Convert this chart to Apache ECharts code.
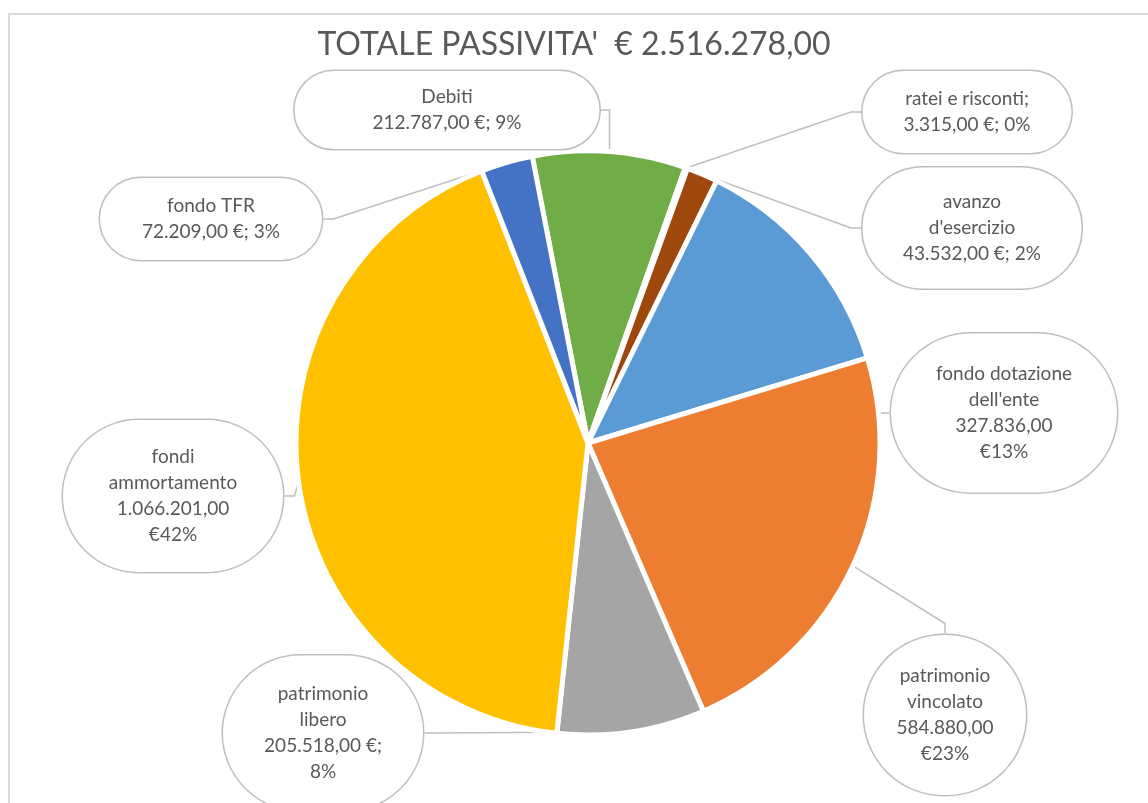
<!DOCTYPE html>
<html>
<head>
<meta charset="utf-8">
<script src="https://cdn.jsdelivr.net/npm/echarts@6/dist/echarts.min.js"></script>
<style>
html, body { margin: 0; padding: 0; background: #fff; overflow: hidden; }
#frame { position: absolute; left: 8px; top: 13px; width: 1300px; height: 1000px; border: 2px solid #d9d9d9; box-sizing: border-box; }
#main { position: absolute; left: 0; top: 0; width: 1148px; height: 803px; }
</style>
</head>
<body>
<div id="frame"></div>
<div id="main"></div>
<script>
// dati (in senso orario partendo da Debiti)
var categories = ['Debiti', 'ratei e risconti;', "avanzo d'esercizio", "fondo dotazione dell'ente",
    'patrimonio vincolato', 'patrimonio libero', 'fondi ammortamento', 'fondo TFR'];
var values = [212787, 3315, 43532, 327836, 584880, 205518, 1066201, 72209];
var colors = ['#70AD47', '#264478', '#9E480E', '#5B9BD5', '#ED7D31', '#A5A5A5', '#FFC000', '#4472C4'];

// posizione/forma dei fumetti (centro, larghezza, altezza, a capo)
var bubbles = [
    { x: 447, y: 110, w: 305, h: 78, nameBreak: false, valBreak: 0 },
    { x: 967, y: 112, w: 209, h: 82, nameBreak: false, valBreak: 0 },
    { x: 972, y: 228, w: 219, h: 121, nameBreak: true, valBreak: 0 },
    { x: 1004, y: 413, w: 226, h: 159, nameBreak: true, valBreak: 1 },
    { x: 945, y: 715, w: 162, h: 160, nameBreak: true, valBreak: 1 },
    { x: 323, y: 733, w: 200, h: 155, nameBreak: true, valBreak: 2 },
    { x: 173, y: 496, w: 220, h: 152, nameBreak: true, valBreak: 1 },
    { x: 211, y: 219, w: 222, h: 82, nameBreak: false, valBreak: 0 }
];

var LINE_H = 26;

function fmtEuro(v) {
    var s = String(Math.round(v));
    var out = '';
    while (s.length > 3) {
        out = '.' + s.slice(-3) + out;
        s = s.slice(0, -3);
    }
    return s + out + ',00';
}

var total = values.reduce(function (a, b) { return a + b; }, 0);

// arrotondamento percentuali come Excel (somma 100)
var exact = values.map(function (v) { return v / total * 100; });
var pcts = exact.map(Math.floor);
var missing = 100 - pcts.reduce(function (a, b) { return a + b; }, 0);
exact.map(function (e, i) { return { i: i, r: e - Math.floor(e) }; })
    .sort(function (a, b) { return b.r - a.r; })
    .slice(0, missing)
    .forEach(function (o) { pcts[o.i] += 1; });

function labelText(i) {
    var b = bubbles[i];
    var name = categories[i];
    if (b.nameBreak) {
        var k = name.lastIndexOf(' ');
        name = name.slice(0, k) + '\n' + name.slice(k + 1);
    }
    var val = fmtEuro(values[i]);
    var p = pcts[i] + '%';
    var tail;
    if (b.valBreak === 1) tail = val + '\n€' + p;
    else if (b.valBreak === 2) tail = val + ' €;\n' + p;
    else tail = val + ' €; ' + p;
    return name + '\n' + tail;
}

var myChart = echarts.init(document.getElementById('main'));

var pieData = categories.map(function (c, i) {
    var b = bubbles[i];
    var lines = labelText(i).split('\n').length;
    var padY = Math.max(0, (b.h - lines * LINE_H) / 2);
    return {
        name: c,
        value: values[i],
        itemStyle: { color: colors[i] },
        label: {
            width: b.w,
            padding: [padY, 0, padY, 0],
            borderRadius: Math.min(b.w, b.h) / 2
        }
    };
});

option = {
    backgroundColor: 'transparent',
    title: {
        text: "TOTALE PASSIVITA'  € " + fmtEuro(total),
        left: 'center',
        top: 24,
        textStyle: {
            fontFamily: 'Lato',
            fontSize: 32,
            fontWeight: 'normal',
            color: '#595959'
        }
    },
    series: [
        {
            type: 'pie',
            center: [588, 443],
            radius: 292,
            startAngle: 101,
            clockwise: true,
            avoidLabelOverlap: false,
            animation: false,
            itemStyle: {
                borderColor: '#fff',
                borderWidth: 5
            },
            label: {
                show: true,
                position: 'outside',
                formatter: function (params) {
                    return labelText(params.dataIndex);
                },
                fontFamily: 'Lato',
                fontSize: 19,
                lineHeight: LINE_H,
                color: '#595959',
                align: 'center',
                overflow: 'none',
                backgroundColor: '#fff',
                borderColor: '#bfbfbf',
                borderWidth: 1.5
            },
            labelLine: {
                show: true,
                length: 10,
                length2: 10,
                lineStyle: { color: '#bfbfbf', width: 1.5 }
            },
            labelLayout: function (params) {
                var b = bubbles[params.dataIndex];
                return { x: b.x, y: b.y, align: 'center', verticalAlign: 'middle' };
            },
            data: pieData
        }
    ]
};

myChart.setOption(option);
</script>
</body>
</html>
